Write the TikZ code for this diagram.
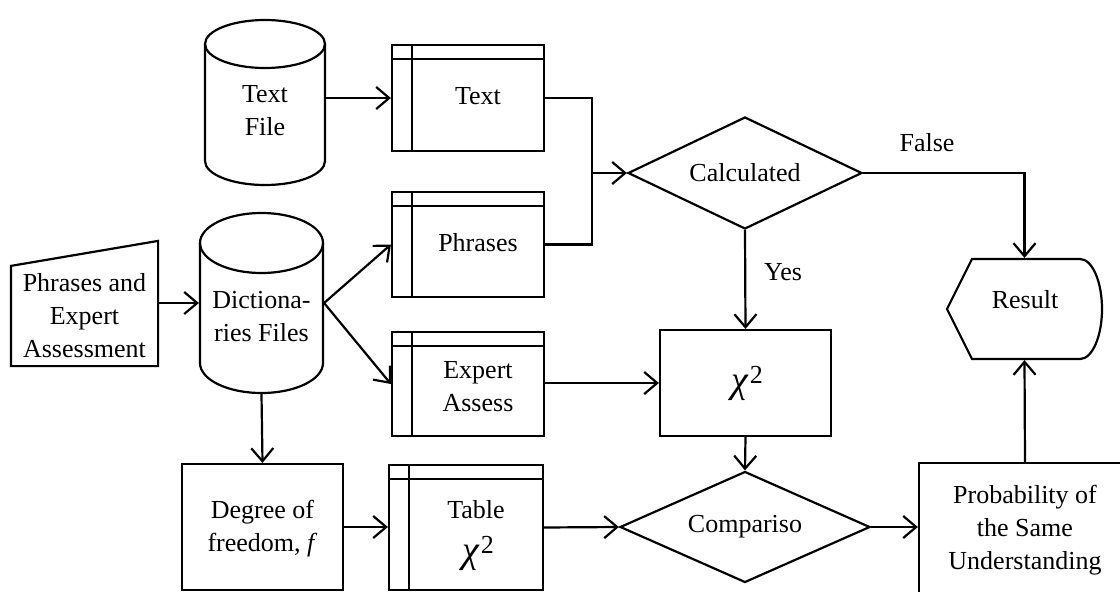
\documentclass[tikz,border=0pt]{standalone}
\usepackage{fontspec}
\setmainfont{Liberation Serif}
\usetikzlibrary{arrows.meta,shapes.geometric,calc}
\newcommand{\chisq}{{\fontsize{38}{40}\selectfont\itshape χ}\kern2pt\raisebox{9pt}{\fontsize{26}{26}\selectfont 2}}
\begin{document}
\begin{tikzpicture}[x=1pt,y=1pt,
  line width=2.2pt,
  txt/.style={font=\fontsize{26}{33}\selectfont, align=center, inner sep=0pt},
  chitxt/.style={inner sep=0pt},
  box/.style={draw, rectangle, inner sep=0pt},
  ghost/.style={rectangle, inner sep=0pt},
  store/.style={box, path picture={
      \draw ([xshift=20pt]path picture bounding box.north west) -- ([xshift=20pt]path picture bounding box.south west);
      \draw ([yshift=-14pt]path picture bounding box.north west) -- ([yshift=-14pt]path picture bounding box.north east);}},
  dia/.style={draw, diamond, inner sep=0pt, aspect=2.1, font=\fontsize{26}{33}\selectfont},
  arr/.style={-{Straight Barb[length=13pt,width=22pt]}}
]
\clip (0,0) rectangle (1120,-592);

% Text File cylinder
\node[ghost, minimum width=120, minimum height=165] (tf) at (265,-102.5) {};
\draw (265,-44) ellipse [x radius=60, y radius=24];
\draw (205,-44) -- (205,-161) arc[start angle=180, end angle=360, x radius=60, y radius=24] -- (325,-44);
\node[txt] (tft) at (265,-111) {Text\\File};

% Dictionaries cylinder
\node[ghost, minimum width=123, minimum height=180] (dc) at (261.5,-303) {};
\draw (261.5,-243) ellipse [x radius=61.5, y radius=30];
\draw (200,-243) -- (200,-363) arc[start angle=180, end angle=360, x radius=61.5, y radius=30] -- (323,-243);
\node[txt] (dct) at (261.5,-317) {Dictiona-\\ries Files};

% Manual input
\node[ghost, minimum width=145, minimum height=98] (pe) at (84.5,-316) {};
\draw (pe.south west) -- (pe.north west) -- ([yshift=25pt]pe.north east) -- (pe.south east) -- cycle;
\node[txt] (pet) at (84.5,-316) {Phrases and\\Expert\\Assessment};

% Internal storage boxes
\node[store, minimum width=152, minimum height=106] (tb) at (468,-98) {};
\node[txt] (tbt) at (478,-96) {Text};
\node[store, minimum width=152, minimum height=105] (ph) at (468,-244.5) {};
\node[txt] (pht) at (478,-243) {Phrases};
\node[store, minimum width=152, minimum height=104] (ea) at (468,-384) {};
\node[txt] (eat) at (478,-387) {Expert\\Assess};
\node[store, minimum width=154, minimum height=125] (tbl) at (466,-527.5) {};
\node[txt] (tblt) at (476,-510) {Table};
\node[chitxt] (tblc) at (478,-553) {\chisq};

% Process boxes
\node[box, minimum width=161, minimum height=126] (df) at (262.5,-527) {};
\node[txt] (dft) at (262.5,-529) {Degree of\\freedom, \textit{f}};
\node[box, minimum width=171, minimum height=106] (chi) at (745.5,-383) {};
\node[chitxt] (chit) at (747,-383) {\chisq};
\node[box, minimum width=212, minimum height=137] (pr) at (1025,-531.5) {};
\node[txt] (prt) at (1025,-530) {Probability of\\the Same\\Understanding};

% Decisions
\node[dia, minimum width=234, minimum height=112] (cd) at (745,-173) {Calculated};
\node[dia, minimum width=250, minimum height=111] (cmp) at (745,-527) {Compariso};

% Display
\node[ghost, minimum width=155, minimum height=100] (rs) at (1024.5,-309) {};
\draw (972,-259) -- (1080,-259) arc[start angle=90, end angle=-90, x radius=22, y radius=50] -- (972,-359) -- (947,-309) -- cycle;
\node[txt] (rst) at (1025,-300) {Result};

% Connectors
\coordinate (jn) at (592,-173);
\draw (tb.east) -| (jn);
\draw (ph.east) -| (jn);
\draw[arr] (jn) -- (cd.west);
\draw[arr] (tf.east |- tb.west) -- (tb.west);
\draw[arr] (pe.east |- dc.west) -- (dc.west);
\draw[arr] (dc.east) -- (ph.west);
\draw[arr] (dc.east) -- (ea.west);
\draw[arr] (dc.south) -- (df.north);
\draw[arr] (df.east) -- (tbl.west |- df.east);
\draw[arr] (tbl.east) -- (cmp.west);
\draw[arr] (ea.east |- chi.west) -- (chi.west);
\draw[arr] (cd.south) -- (chi.north);
\draw[arr] (chi.south) -- (cmp.north);
\draw[arr] (cmp.east) -- (pr.west |- cmp.east);
\draw[arr] (pr.north) -- (rs.south);
\draw[arr] (cd.east) -| (rs.north);

% Labels
\node[txt] (yes) at (783,-272) {Yes};
\node[txt] (false) at (927,-143) {False};
\end{tikzpicture}
\end{document}
